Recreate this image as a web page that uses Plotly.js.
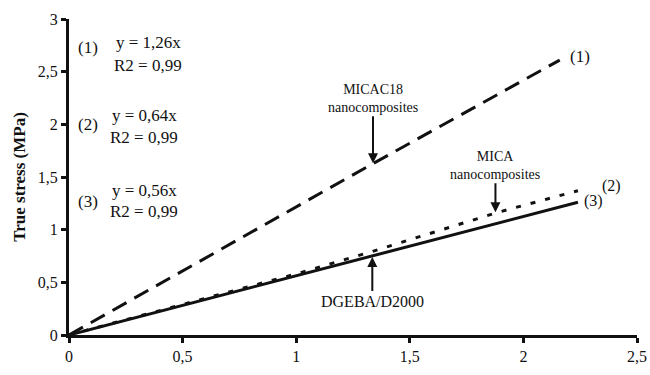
<!DOCTYPE html>
<html><head><meta charset="utf-8">
<script src="https://cdn.plot.ly/plotly-3.0.1.min.js"></script>
<style>body{margin:0;background:#fff}#c{width:650px;height:375px}</style>
</head><body><div id="c"></div>
<script>
const x1 = [0, 0.63, 1.34, 2.16];
const y1 = [0, 0.77, 1.63, 2.61];
const x2 = [0, 0.5, 1.0, 1.33, 1.88, 2.24];
const y2 = [0, 0.29, 0.58, 0.79, 1.16, 1.37];
const x3 = [0, 1.33, 2.24];
const y3 = [0, 0.745, 1.26];
const xTicks = [0, 0.5, 1, 1.5, 2, 2.5];
const xTickText = ['0', '0,5', '1', '1,5', '2', '2,5'];
const yTicks = [0, 0.5, 1, 1.5, 2, 2.5, 3];
const yTickText = ['0', '0,5', '1', '1,5', '2', '2,5', '3'];

const F = 'Liberation Serif';
const traces = [
  {x: x1, y: y1, mode: 'lines', line: {color: '#111', width: 3, dash: '16px,9px'}},
  {x: x2, y: y2, mode: 'lines', line: {color: '#111', width: 3, dash: '5px,10px'}},
  {x: x3, y: y3, mode: 'lines', line: {color: '#111', width: 3}}
];
function txt(x, y, t, size) {
  return {xref: 'paper', yref: 'paper', x: x, y: y, text: t, showarrow: false,
    font: {family: F, size: size || 17, color: '#111'}, xanchor: 'center', yanchor: 'middle'};
}
const pw = 568, ph = 316;
function px(xp, yp, t, s) { return txt((xp - 69) / pw, (335 - yp) / ph, t, s); }
const ann = [
  px(88, 47, '(1)'), px(148, 43, 'y = 1,26x'), px(148, 65, 'R2 = 0,99'),
  px(88, 124, '(2)'), px(144, 116, 'y = 0,64x'), px(144, 137, 'R2 = 0,99'),
  px(88, 201, '(3)'), px(144, 190, 'y = 0,56x'), px(144, 212, 'R2 = 0,99'),
  px(580, 57, '(1)'), px(611, 186, '(2)', 16), px(593, 201, '(3)', 16),
  {x: 1.338, y: 1.63, ax: 0, ay: -65, text: 'MICAC18<br>nanocomposites', showarrow: true,
   arrowhead: 2, arrowsize: 1, arrowwidth: 2, arrowcolor: '#111', standoff: 0,
   font: {family: F, size: 14, color: '#111'}},
  {x: 1.877, y: 1.166, ax: 0, ay: -47, text: 'MICA<br>nanocomposites', showarrow: true,
   arrowhead: 2, arrowsize: 1, arrowwidth: 2, arrowcolor: '#111', standoff: 0,
   font: {family: F, size: 14, color: '#111'}},
  {x: 1.335, y: 0.74, ax: 0, ay: 44, text: 'DGEBA/D2000', showarrow: true,
   arrowhead: 2, arrowsize: 1, arrowwidth: 2, arrowcolor: '#111', standoff: 0,
   font: {family: F, size: 16, color: '#111'}}
];
const layout = {
  width: 650, height: 375,
  margin: {l: 69, r: 13, t: 19, b: 40},
  showlegend: false,
  paper_bgcolor: '#fff', plot_bgcolor: '#fff',
  font: {family: F, size: 16, color: '#111'},
  xaxis: {range: [0, 2.5], tickvals: xTicks, ticktext: xTickText, showgrid: false, zeroline: false,
    showline: true, linecolor: '#111', linewidth: 3, ticks: 'outside', ticklen: 5, tickwidth: 3,
    tickcolor: '#111', tickfont: {family: F, size: 16}},
  yaxis: {range: [0, 3], tickvals: yTicks, ticktext: yTickText, showgrid: false, zeroline: false,
    showline: true, linecolor: '#111', linewidth: 3, ticks: 'outside', ticklen: 5, tickwidth: 3,
    tickcolor: '#111', tickfont: {family: F, size: 16},
    title: {text: '<b>True stress (MPa)</b>', font: {family: F, size: 17}, standoff: 8}},
  annotations: ann
};
Plotly.newPlot('c', traces, layout, {staticPlot: true});
</script></body></html>
